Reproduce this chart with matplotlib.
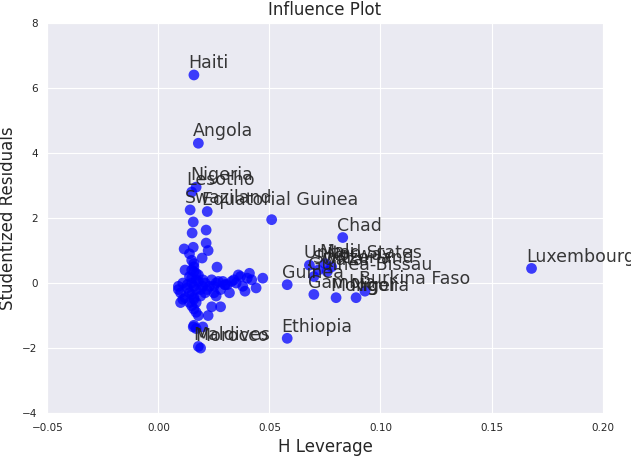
import matplotlib
matplotlib.use("Agg")
import matplotlib.pyplot as plt
import seaborn as sns

sns.set_style("darkgrid")
plt.rcParams['font.family'] = ['DejaVu Sans']

# labelled countries: (name, leverage, studentized residual)
names = ["Haiti", "Angola", "Nigeria", "Lesotho", "Swaziland", "Equatorial Guinea",
         "Chad", "Luxembourg", "United States", "Mali", "Norway", "Switzerland",
         "Qatar", "Guinea-Bissau", "Guinea", "Gambia", "Niger", "Burkina Faso",
         "Mongolia", "Ethiopia", "Maldives", "Morocco"]
lev_named = [0.016, 0.018, 0.017, 0.015, 0.0143, 0.022, 0.083, 0.168, 0.068, 0.075,
             0.078, 0.072, 0.076, 0.070, 0.058, 0.070, 0.089, 0.093, 0.080, 0.058,
             0.018, 0.019]
res_named = [6.4, 4.3, 2.95, 2.8, 2.25, 2.2, 1.4, 0.45, 0.55, 0.6, 0.5, 0.4, 0.35,
             0.2, -0.05, -0.35, -0.45, -0.25, -0.45, -1.7, -1.95, -2.0]

# unlabelled cluster
lev_other = [0.051, 0.0157, 0.0215, 0.0152, 0.0215, 0.0116, 0.0224, 0.0157,
             0.0197, 0.0264, 0.047, 0.023, 0.026, 0.029, 0.031, 0.034, 0.037, 0.040,
             0.044, 0.025, 0.028, 0.033, 0.038, 0.041, 0.030, 0.036, 0.039,
             0.014, 0.015, 0.016, 0.017, 0.014, 0.015, 0.016, 0.017, 0.015, 0.016,
             0.014, 0.015, 0.016, 0.017, 0.018, 0.015, 0.016, 0.017, 0.014, 0.016,
             0.015, 0.017, 0.016, 0.018, 0.019, 0.020, 0.019, 0.021, 0.020, 0.018,
             0.0224, 0.028, 0.024, 0.0157, 0.020, 0.016, 0.017,
             0.009, 0.010, 0.011, 0.010, 0.009, 0.011, 0.012, 0.013, 0.012, 0.013,
             0.021, 0.022, 0.024, 0.025, 0.027, 0.032, 0.035, 0.042, 0.030, 0.026]
res_other = [1.95, 1.88, 1.63, 1.54, 1.23, 1.05, 1.0, 1.1, 0.77, 0.49, 0.15,
             -0.1, 0.0, 0.05, -0.05, 0.1, 0.2, 0.15, -0.15, -0.3, -0.2, 0.05, -0.1,
             0.3, -0.05, 0.25, -0.25,
             0.9, 0.7, 0.5, 0.3, 0.2, 0.0, -0.1, -0.2, -0.35, -0.5, -0.6, -0.7,
             -0.8, -0.9, -1.0, 0.4, 0.6, 0.1, -0.3, -0.45, 0.15, -0.6, 0.35, 0.05,
             -0.2, 0.1, -0.4, -0.3, -0.1, 0.25,
             -1.0, -0.73, -0.73, -1.35, -1.35, -1.3, -1.4,
             -0.1, -0.3, -0.5, -0.6, -0.2, 0.0, 0.4, -0.15, -0.45, -0.05,
             0.0, -0.2, 0.1, -0.1, 0.05, -0.3, 0.0, 0.1, -0.05, -0.4]

fig, ax = plt.subplots(figsize=(6.31, 4.59), dpi=100)
ax.scatter(lev_other + lev_named, res_other + res_named, s=60, c="blue",
           alpha=0.75, edgecolors="none")
for n, x, y in zip(names, lev_named, res_named):
    ax.annotate(n, (x, y), xytext=(-4, 2), textcoords="offset points",
                ha="left", va="bottom", fontsize=12.5, color="#222222", alpha=0.9)

ax.set_xlim(-0.05, 0.20)
ax.set_ylim(-4, 8)
ax.set_title("Influence Plot", fontsize=12)
ax.set_xlabel("H Leverage", fontsize=12)
ax.set_ylabel("Studentized Residuals", fontsize=12)
ax.tick_params(labelsize=7.5)
plt.subplots_adjust(left=0.075, right=0.955, top=0.95, bottom=0.1)
fig.savefig("out.png", dpi=100)
